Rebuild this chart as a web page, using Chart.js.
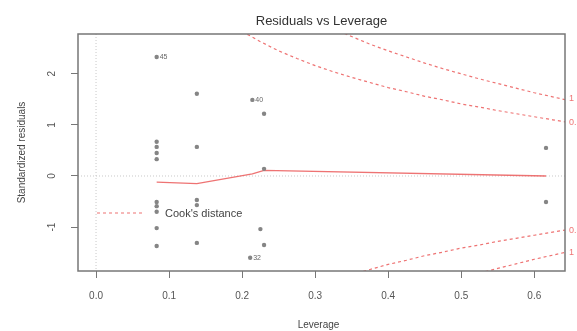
<!DOCTYPE html>
<html>
<head>
<meta charset="utf-8">
<script src="https://cdn.jsdelivr.net/npm/chart.js@4/dist/chart.umd.min.js"></script>
<style>
  html, body { margin: 0; padding: 0; background: #fff; }
  #wrap { width: 577px; height: 331px; }
</style>
</head>
<body>
<div id="wrap"><canvas id="plot" width="577" height="331"></canvas></div>
<script>
// Residuals vs Leverage (R plot.lm, which = 5)
const xTicks = [0, 0.1, 0.2, 0.3, 0.4, 0.5, 0.6];
const yTicks = [-1, 0, 1, 2];

const leverage = [0.083, 0.083, 0.083, 0.083, 0.083, 0.083, 0.083, 0.083, 0.083, 0.083,
                  0.138, 0.138, 0.138, 0.138, 0.138,
                  0.214, 0.23, 0.23, 0.225, 0.23, 0.211,
                  0.616, 0.616];
const stdResid = [2.33, 0.67, 0.57, 0.45, 0.33, -0.51, -0.59, -0.70, -1.02, -1.37,
                  1.61, 0.57, -0.47, -0.57, -1.31,
                  1.49, 1.22, 0.14, -1.04, -1.35, -1.60,
                  0.55, -0.51];

// labelled observations
const idLabels = ['45', '40', '32'];
const idLeverage = [0.083, 0.214, 0.211];
const idResid = [2.33, 1.49, -1.60];

// smoother through the points
const smoothX = [0.083, 0.138, 0.214, 0.23, 0.616];
const smoothY = [-0.12, -0.15, 0.04, 0.11, 0.0];

// Cook's distance contours (0.5 and 1)
const cookHalfX = [0.20, 0.225, 0.25, 0.275, 0.30, 0.325, 0.35, 0.375, 0.40, 0.425,
                   0.45, 0.475, 0.50, 0.525, 0.55, 0.575, 0.60, 0.625, 0.65];
const cookHalfUp = [2.83, 2.63, 2.45, 2.30, 2.16, 2.04, 1.93, 1.83, 1.73, 1.65,
                    1.56, 1.49, 1.41, 1.35, 1.28, 1.22, 1.16, 1.10, 1.04];
const cookOneX = [0.325, 0.35, 0.375, 0.40, 0.425, 0.45, 0.475, 0.50, 0.525, 0.55,
                  0.575, 0.60, 0.625, 0.65];
const cookOneUp = [2.88, 2.73, 2.58, 2.45, 2.33, 2.21, 2.10, 2.00, 1.90, 1.81,
                   1.72, 1.63, 1.55, 1.47];
const cookHalfLowX = [0.35, 0.375, 0.40, 0.425, 0.45, 0.475, 0.50, 0.525, 0.55, 0.575,
                      0.60, 0.625, 0.65];
const cookHalfLow = [-1.93, -1.83, -1.73, -1.65, -1.56, -1.49, -1.41, -1.35, -1.28, -1.22,
                     -1.16, -1.10, -1.04];
const cookOneLowX = [0.525, 0.55, 0.575, 0.60, 0.625, 0.65];
const cookOneLow = [-1.90, -1.81, -1.72, -1.63, -1.55, -1.47];
const cookLevelLabels = ['1', '0.5', '0.5', '1'];
const cookLevelY = [1.51, 1.05, -1.07, -1.49];

const FONT = 'Liberation Sans, Arial, sans-serif';
const RED = 'rgba(235, 90, 90, 0.85)';

const pts = (xs, ys) => xs.map((x, i) => ({ x: x, y: ys[i] }));

const cookLine = (data) => ({
    type: 'line', data: data, borderColor: RED, borderWidth: 1.2,
    borderDash: [3, 3], pointRadius: 0, tension: 0, fill: false
});

// box, reference lines, rotated y labels, titles, legend, ids
const decor = {
    id: 'decor',
    beforeDatasetsDraw(chart) {
        const { ctx, chartArea: a, scales: { x, y } } = chart;
        ctx.save();
        ctx.strokeStyle = '#c8c8c8';
        ctx.lineWidth = 1;
        ctx.setLineDash([1, 2]);
        ctx.beginPath();
        ctx.moveTo(a.left, y.getPixelForValue(0));
        ctx.lineTo(a.right, y.getPixelForValue(0));
        ctx.moveTo(x.getPixelForValue(0), a.top);
        ctx.lineTo(x.getPixelForValue(0), a.bottom);
        ctx.stroke();
        ctx.restore();
    },
    afterDraw(chart) {
        const { ctx, chartArea: a, scales: { x, y } } = chart;
        ctx.save();
        ctx.strokeStyle = '#777';
        ctx.lineWidth = 1.5;
        ctx.strokeRect(a.left, a.top, a.right - a.left, a.bottom - a.top);

        // y tick labels, parallel to axis
        ctx.fillStyle = '#555';
        ctx.font = '10px ' + FONT;
        ctx.textAlign = 'center';
        ctx.textBaseline = 'middle';
        yTicks.forEach(v => {
            ctx.save();
            ctx.translate(a.left - 26, y.getPixelForValue(v));
            ctx.rotate(-Math.PI / 2);
            ctx.fillText(String(v), 0, 0);
            ctx.restore();
        });

        // Cook's levels on the right axis
        ctx.fillStyle = RED;
        ctx.font = '9px ' + FONT;
        ctx.textAlign = 'left';
        cookLevelLabels.forEach((t, i) => ctx.fillText(t, a.right + 4, y.getPixelForValue(cookLevelY[i])));

        // point ids
        ctx.fillStyle = '#666';
        ctx.font = '7px ' + FONT;
        idLabels.forEach((t, i) => ctx.fillText(t, x.getPixelForValue(idLeverage[i]) + 3, y.getPixelForValue(idResid[i])));

        // titles
        ctx.fillStyle = '#333';
        ctx.textAlign = 'center';
        ctx.font = '13px ' + FONT;
        ctx.fillText('Residuals vs Leverage', (a.left + a.right) / 2, 21);
        ctx.font = '10px ' + FONT;
        ctx.fillStyle = '#444';
        ctx.fillText('Leverage', (a.left + a.right) / 2 - 3, 325);
        ctx.save();
        ctx.translate(22, (a.top + a.bottom) / 2);
        ctx.rotate(-Math.PI / 2);
        ctx.fillText('Standardized residuals', 0, 0);
        ctx.restore();

        // legend (bottomleft, no box)
        const ly = a.bottom - 58;
        ctx.strokeStyle = RED;
        ctx.lineWidth = 1.2;
        ctx.setLineDash([3, 3]);
        ctx.beginPath();
        ctx.moveTo(a.left + 19, ly);
        ctx.lineTo(a.left + 66, ly);
        ctx.stroke();
        ctx.setLineDash([]);
        ctx.fillStyle = '#444';
        ctx.font = '11px ' + FONT;
        ctx.textAlign = 'left';
        ctx.fillText("Cook's distance", a.left + 87, ly + 1);
        ctx.restore();
    }
};

new Chart(document.getElementById('plot'), {
    type: 'scatter',
    data: {
        datasets: [
            { type: 'scatter', data: pts(leverage, stdResid), backgroundColor: '#858585',
              borderColor: '#858585', pointRadius: 2.2, borderWidth: 0 },
            { type: 'line', data: pts(smoothX, smoothY), borderColor: RED, borderWidth: 1.3,
              pointRadius: 0, tension: 0, fill: false },
            cookLine(pts(cookHalfX, cookHalfUp)),
            cookLine(pts(cookOneX, cookOneUp)),
            cookLine(pts(cookHalfLowX, cookHalfLow)),
            cookLine(pts(cookOneLowX, cookOneLow))
        ]
    },
    options: {
        responsive: false,
        animation: false,
        layout: { padding: { left: 0, right: 12, top: 34, bottom: 0 } },
        plugins: { legend: { display: false }, tooltip: { enabled: false } },
        scales: {
            x: {
                type: 'linear', min: -0.0247, max: 0.642,
                afterBuildTicks: s => { s.ticks = xTicks.map(v => ({ value: v })); },
                afterFit: s => { s.height = 60; },
                border: { display: false },
                grid: { drawOnChartArea: false, drawTicks: true, tickLength: 7, color: '#777' },
                ticks: { color: '#555', font: { size: 10, family: FONT }, padding: 12,
                         maxRotation: 0, callback: v => v.toFixed(1) }
            },
            y: {
                type: 'linear', min: -1.86, max: 2.78,
                afterBuildTicks: s => { s.ticks = yTicks.map(v => ({ value: v })); },
                afterFit: s => { s.width = 78; },
                border: { display: false },
                grid: { drawOnChartArea: false, drawTicks: true, tickLength: 7, color: '#777' },
                ticks: { display: false }
            }
        }
    },
    plugins: [decor]
});
</script>
</body>
</html>
